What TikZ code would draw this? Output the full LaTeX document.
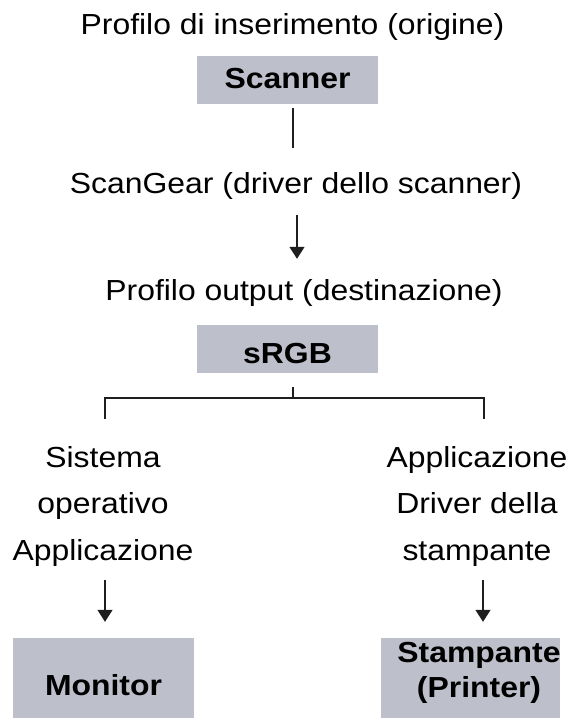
\documentclass[tikz,border=0pt]{standalone}
\usepackage{fontspec}
\setmainfont{Liberation Sans}[FakeStretch=1.1]
\usetikzlibrary{arrows.meta,calc}
\definecolor{boxfill}{RGB}{189,192,203}
\definecolor{linecol}{RGB}{30,30,30}
\begin{document}
\begin{tikzpicture}[x=1pt,y=-1pt,
  txt/.style={inner sep=0pt, font=\fontsize{29}{46.5}\selectfont},
  boldtxt/.style={inner sep=0pt, font=\fontsize{29}{35}\selectfont\bfseries},
  box/.style={fill=boxfill, inner sep=0pt, font=\fontsize{29}{35}\selectfont\bfseries},
  conn/.style={line width=1.4pt, draw=linecol},
  arr/.style={conn, -{Triangle[length=12pt,width=15pt]}}]
\useasboundingbox (0,0) rectangle (571,728);

% texts
\node[txt, anchor=base] (title) at (292.5,34) {Profilo di inserimento (origine)};
\node[box, minimum width=181pt, minimum height=48pt, text height=16pt, text depth=0pt] (scanner) at (287.5,80) {Scanner};
\node[txt, anchor=base] (scangear) at (296,193) {ScanGear (driver dello scanner)};
\node[txt, anchor=base] (output) at (304,300) {Profilo output (destinazione)};
\node[box, minimum width=181pt, minimum height=48pt, text height=28pt, text depth=0pt] (srgb) at (287.5,349) {sRGB};
\node[txt, align=center] (left) at (103,506) {Sistema\\operativo\\Applicazione};
\node[txt, align=center] (right) at (477,506) {Applicazione\\Driver della\\stampante};
\node[box, minimum width=181pt, minimum height=80pt, text height=34pt, text depth=0pt] (monitor) at (103.5,678) {Monitor};
\node[box, minimum width=179pt, minimum height=80pt] (printer) at (470.5,678) {};
\node[boldtxt, align=center] (printerlabel) at (479,673) {Stampante\\(Printer)};

% connectors
\draw[conn] ($(scanner.south)+(5.5,4)$) -- ($(scanner.south)+(5.5,44)$);
\draw[arr] ($(scangear.south)+(1,16)$) -- ($(output.north)+(-7,-20)$);
\coordinate (split) at ($(srgb.south)+(5.5,25)$);
\coordinate (lefttop) at (105,398);
\coordinate (righttop) at (484,398);
\draw[conn] ($(srgb.south)+(5.5,14)$) -- (split);
\draw[conn, line cap=rect] ($(lefttop)+(0,20)$) -- (lefttop) -- (righttop) -- ($(righttop)+(0,20)$);
\draw[arr] ($(left.south)+(2,14)$) -- ($(monitor.north)+(1.5,-16)$);
\draw[arr] ($(right.south)+(6,14)$) -- ($(printer.north)+(12.5,-16)$);
\end{tikzpicture}
\end{document}
